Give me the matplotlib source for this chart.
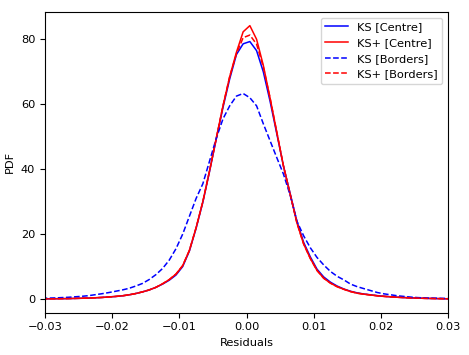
import numpy as np
import matplotlib
matplotlib.use("Agg")
import matplotlib.pyplot as plt

# Bin centres of the residual histograms
residuals = np.round(np.arange(-0.0305, 0.03051, 0.001), 4)

ks_plus_centre = [
    0.07, 0.08, 0.1, 0.12, 0.15, 0.2, 0.25, 0.3, 0.4, 0.5, 0.65, 0.8, 1.0, 1.3, 1.7, 2.2, 2.8, 3.6, 4.7, 6.0,
    7.7, 10.3, 15.0, 22.0, 30.0, 39.5, 49.5, 59.5, 68.5, 76.0, 82.3,
    84.2, 80.0, 72.0, 62.0, 51.5, 41.0, 32.3, 23.5, 17.0, 12.5, 8.8, 6.4, 4.9, 3.8, 3.0, 2.3, 1.8, 1.5, 1.25,
    1.0, 0.82, 0.68, 0.55, 0.45, 0.35, 0.3, 0.22, 0.18, 0.14, 0.1, 0.08,
]
ks_centre = [
    0.07, 0.08, 0.1, 0.12, 0.15, 0.2, 0.25, 0.3, 0.4, 0.5, 0.65, 0.8, 1.0, 1.3, 1.7, 2.2, 2.8, 3.6, 4.6, 5.8,
    7.4, 10.0, 14.8, 21.8, 29.8, 39.3, 49.3, 59.0, 67.8, 75.3, 78.6,
    79.3, 76.5, 70.0, 61.0, 51.0, 41.0, 32.5, 24.0, 17.5, 13.0, 9.2, 6.8, 5.2, 4.0, 3.1, 2.4, 1.9, 1.55, 1.3,
    1.05, 0.85, 0.7, 0.57, 0.46, 0.36, 0.3, 0.23, 0.18, 0.14, 0.1, 0.08,
]
ks_plus_borders = [
    0.07, 0.08, 0.1, 0.12, 0.15, 0.2, 0.25, 0.3, 0.4, 0.5, 0.65, 0.8, 1.0, 1.3, 1.7, 2.2, 2.8, 3.6, 4.7, 6.0,
    7.7, 10.3, 15.0, 22.0, 30.0, 39.5, 49.5, 59.5, 68.5, 75.5, 80.5,
    81.3, 78.5, 71.5, 62.0, 51.5, 41.0, 32.3, 23.5, 17.0, 12.5, 8.8, 6.4, 4.9, 3.8, 3.0, 2.3, 1.8, 1.5, 1.25,
    1.0, 0.82, 0.68, 0.55, 0.45, 0.35, 0.3, 0.22, 0.18, 0.14, 0.1, 0.08,
]
ks_borders = [
    0.25, 0.3, 0.35, 0.45, 0.55, 0.7, 0.85, 1.05, 1.35, 1.65, 2.0, 2.4, 2.8, 3.3, 4.0, 4.8, 6.0, 7.5, 9.4, 12.0,
    15.5, 20.0, 25.5, 31.0, 35.5, 42.5, 49.5, 55.5, 59.5, 62.5, 63.3,
    62.0, 59.5, 54.0, 48.8, 43.6, 38.5, 32.0, 24.0, 19.5, 15.8, 12.8, 10.5, 8.5, 7.0, 5.9, 4.6, 3.8, 3.2, 2.6,
    2.0, 1.6, 1.3, 1.0, 0.8, 0.6, 0.45, 0.35, 0.3, 0.25, 0.2, 0.18,
]

xticks = [-0.03, -0.02, -0.01, 0.00, 0.01, 0.02, 0.03]
yticks = [0, 20, 40, 60, 80]

plt.rcParams['font.size'] = 8.2
fig = plt.figure(figsize=(4.69, 3.55), dpi=100)
ax = fig.add_axes([45 / 469, 1 - 312.7 / 355, (448 - 45) / 469, (312.7 - 12) / 355])

lw = 1.1
ax.plot(residuals, ks_centre, color='blue', lw=lw, label='KS [Centre]')
ax.plot(residuals, ks_plus_centre, color='red', lw=lw, label='KS+ [Centre]')
ax.plot(residuals, ks_borders, color='blue', lw=lw, ls='--', label='KS [Borders]')
ax.plot(residuals, ks_plus_borders, color='red', lw=lw, ls='--', label='KS+ [Borders]')

ax.set_xlim(-0.03, 0.03)
ax.set_ylim(-4.2, 88.4)
ax.set_xticks(xticks)
ax.set_xticklabels([f"{t:.2f}".replace('-', '\u2212') for t in xticks])
ax.set_yticks(yticks)
ax.set_xlabel('Residuals')
ax.set_ylabel('PDF')
ax.legend(loc='upper right')

fig.savefig('out.png', dpi=100)
